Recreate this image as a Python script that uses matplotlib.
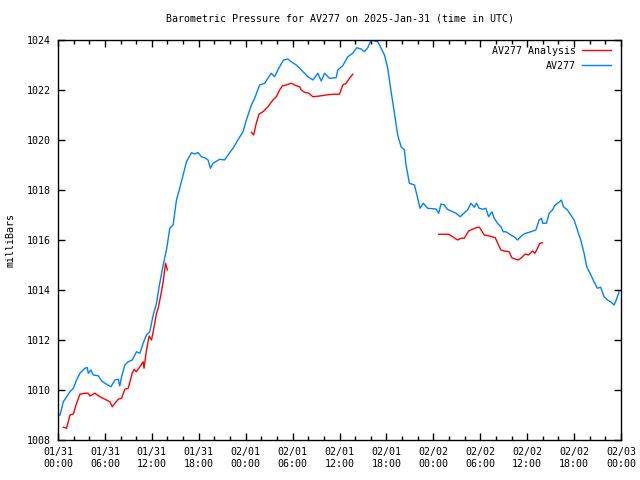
import numpy as np
import matplotlib.pyplot as plt
from matplotlib.ticker import MultipleLocator

# hours since 2025-01-31 00:00 UTC
obs_hours = [0.0, 0.26, 0.68, 1.1, 1.53, 1.96, 2.38, 2.8, 3.45, 3.74, 3.87, 4.2, 4.5, 5.15,
             5.57, 6.0, 6.77, 7.28, 7.7, 7.9, 8.13, 8.55, 8.98, 9.5, 10.04, 10.47, 10.89,
             11.32, 11.74, 12.17, 12.6, 12.93, 13.45, 13.87, 14.3, 14.72, 15.15, 15.57, 16.0,
             16.43, 17.07, 17.49, 17.9, 18.35, 18.77, 19.19, 19.49, 19.83, 20.68, 21.3,
             21.74, 22.38, 23.0, 23.66, 24.09, 24.73, 25.15, 25.79, 26.43, 26.97, 27.28,
             27.7, 28.26, 28.85, 29.4, 29.83, 30.47, 30.9, 31.53, 31.96, 32.6, 33.23, 33.66,
             34.09, 34.72, 35.57, 35.78, 36.42, 37.06, 37.7, 38.21, 38.77, 39.19, 39.61,
             40.05, 40.47, 40.9, 41.32, 41.75, 42.17, 42.6, 43.0, 43.44, 43.88, 44.3, 44.51,
             44.94, 45.58, 46.0, 46.3, 46.72, 47.27, 48.34, 48.68, 48.98, 49.4, 49.8, 50.47,
             50.9, 51.45, 51.96, 52.38, 52.81, 53.24, 53.5, 53.87, 54.3, 54.73, 55.06, 55.49,
             55.79, 56.2, 56.64, 56.94, 57.28, 57.92, 58.34, 58.77, 59.4, 59.83, 60.47,
             61.11, 61.53, 61.83, 62.0, 62.47, 62.81, 63.23, 63.57, 64.0, 64.38, 64.64,
             65.15, 65.58, 66.0, 66.42, 66.85, 67.28, 67.62, 68.04, 68.55, 68.98, 69.4,
             69.83, 70.26, 70.68, 71.11, 71.4, 71.75]
obs_mb = [1008.95, 1009.0, 1009.53, 1009.73, 1009.93, 1010.07, 1010.4, 1010.67, 1010.87,
          1010.9, 1010.67, 1010.8, 1010.6, 1010.57, 1010.37, 1010.27, 1010.13, 1010.4,
          1010.43, 1010.16, 1010.53, 1011.0, 1011.13, 1011.2, 1011.53, 1011.47, 1011.87,
          1012.2, 1012.33, 1013.0, 1013.47, 1014.13, 1015.0, 1015.6, 1016.47, 1016.6,
          1017.6, 1018.07, 1018.6, 1019.13, 1019.49, 1019.44, 1019.5, 1019.33, 1019.29,
          1019.2, 1018.87, 1019.07, 1019.23, 1019.2, 1019.4, 1019.67, 1020.0, 1020.33,
          1020.8, 1021.4, 1021.67, 1022.2, 1022.27, 1022.53, 1022.67, 1022.53, 1022.89,
          1023.2, 1023.24, 1023.13, 1023.0, 1022.87, 1022.67, 1022.53, 1022.4, 1022.67,
          1022.36, 1022.67, 1022.47, 1022.49, 1022.8, 1022.97, 1023.33, 1023.47, 1023.69,
          1023.64, 1023.53, 1023.69, 1024.0, 1023.96, 1023.93, 1023.67, 1023.4, 1022.87,
          1021.93, 1021.13, 1020.2, 1019.73, 1019.6, 1019.0, 1018.27, 1018.2, 1017.67,
          1017.27, 1017.47, 1017.27, 1017.24, 1017.07, 1017.44, 1017.4, 1017.23, 1017.13,
          1017.07, 1016.93, 1017.09, 1017.2, 1017.47, 1017.31, 1017.47, 1017.27, 1017.23,
          1017.27, 1016.93, 1017.13, 1016.87, 1016.67, 1016.53, 1016.33, 1016.33, 1016.2,
          1016.13, 1016.0, 1016.2, 1016.27, 1016.33, 1016.4, 1016.8, 1016.87, 1016.67,
          1016.67, 1017.07, 1017.2, 1017.4, 1017.49, 1017.6, 1017.33, 1017.2, 1017.0,
          1016.8, 1016.4, 1016.0, 1015.47, 1014.93, 1014.67, 1014.33, 1014.07, 1014.11,
          1013.73, 1013.6, 1013.53, 1013.4, 1013.6, 1013.93]

# analysis series, NaN marks the gaps
ana_hours = [0.68, 1.1, 1.53, 1.96, 2.38, 2.8, 3.45, 3.87, 4.09, 4.72, 5.36, 6.0, 6.64,
             6.94, 7.28, 7.7, 8.13, 8.55, 8.98, 9.49, 9.74, 10.0, 10.47, 10.89, 11.0,
             11.32, 11.66, 11.96, 12.26, 12.6, 12.81, 13.15, 13.45, 13.75, 14.0, 14.1,
             24.73, 25.02, 25.36, 25.7, 26.21, 26.85, 27.49, 27.92, 28.34, 28.68, 29.19,
             29.83, 30.47, 30.9, 31.11, 31.53, 32.09, 32.6, 33.45, 34.3, 35.15, 36.0,
             36.42, 36.85, 37.28, 37.7, 37.8,
             48.68, 49.96, 50.47, 51.1, 51.53, 51.96, 52.51, 53.0, 53.66, 53.9, 54.51,
             55.15, 55.92, 56.64, 57.06, 57.7, 58.04, 58.55, 58.85, 59.2, 59.74, 60.17,
             60.68, 61.0, 61.32, 61.62, 61.96]
ana_mb = [1008.51, 1008.47, 1009.0, 1009.04, 1009.47, 1009.83, 1009.87, 1009.87, 1009.76,
          1009.87, 1009.73, 1009.63, 1009.53, 1009.33, 1009.47, 1009.63, 1009.67, 1010.03,
          1010.07, 1010.67, 1010.83, 1010.73, 1010.93, 1011.13, 1010.87, 1011.6, 1012.16,
          1012.0, 1012.47, 1013.07, 1013.27, 1013.8, 1014.33, 1015.07, 1014.8, np.nan,
          1020.31, 1020.2, 1020.67, 1021.03, 1021.13, 1021.33, 1021.6, 1021.73, 1022.0,
          1022.16, 1022.2, 1022.27, 1022.17, 1022.13, 1022.0, 1021.91, 1021.87, 1021.73,
          1021.76, 1021.8, 1021.83, 1021.83, 1022.2, 1022.27, 1022.47, 1022.63, np.nan,
          1016.23, 1016.23, 1016.13, 1016.0, 1016.07, 1016.07, 1016.36, 1016.43, 1016.51,
          1016.51, 1016.2, 1016.16, 1016.09, 1015.6, 1015.56, 1015.53, 1015.29, 1015.23,
          1015.2, 1015.27, 1015.44, 1015.4, 1015.56, 1015.47, 1015.67, 1015.87, 1015.89]

tick_hours = list(range(0, 73, 6))
tick_labels = ["01/31\n00:00", "01/31\n06:00", "01/31\n12:00", "01/31\n18:00",
               "02/01\n00:00", "02/01\n06:00", "02/01\n12:00", "02/01\n18:00",
               "02/02\n00:00", "02/02\n06:00", "02/02\n12:00", "02/02\n18:00",
               "02/03\n00:00"]

plt.rcParams["font.family"] = "DejaVu Sans Mono"
plt.rcParams["font.size"] = 7.2

fig = plt.figure(figsize=(6.4, 4.8), dpi=100)
ax = fig.add_axes([58 / 640, 40 / 480, 563 / 640, 400 / 480])

ax.plot(ana_hours, ana_mb, color="#ff0000", lw=1, label="AV277 Analysis")
ax.plot(obs_hours, obs_mb, color="#0080ff", lw=1, label="AV277")

ax.set_xlim(0, 72)
ax.set_ylim(1008, 1024)
ax.set_xticks(tick_hours)
ax.set_xticklabels(tick_labels)
ax.xaxis.set_minor_locator(MultipleLocator(2))
ax.yaxis.set_major_locator(MultipleLocator(2))
ax.tick_params(which="both", direction="in", top=True, right=True, width=1, pad=5)
ax.tick_params(which="major", length=5)
ax.tick_params(which="minor", length=3)
ax.tick_params(axis="y", pad=5)
for s in ax.spines.values():
    s.set_linewidth(1)

ax.set_ylabel("milliBars", labelpad=8)
# title centred over the plot area, like gnuplot does
ax.text(0.5, 1 + 21 / 400, "Barometric Pressure for AV277 on 2025-Jan-31 (time in UTC)",
        transform=ax.transAxes, ha="center", va="center")

ax.legend(loc="upper right", frameon=False, markerfirst=False, handlelength=2.9,
          handletextpad=0.6, labelspacing=0.5, borderaxespad=0.2,
          bbox_to_anchor=(0.993, 1.0))

plt.savefig("out.png", dpi=100)
